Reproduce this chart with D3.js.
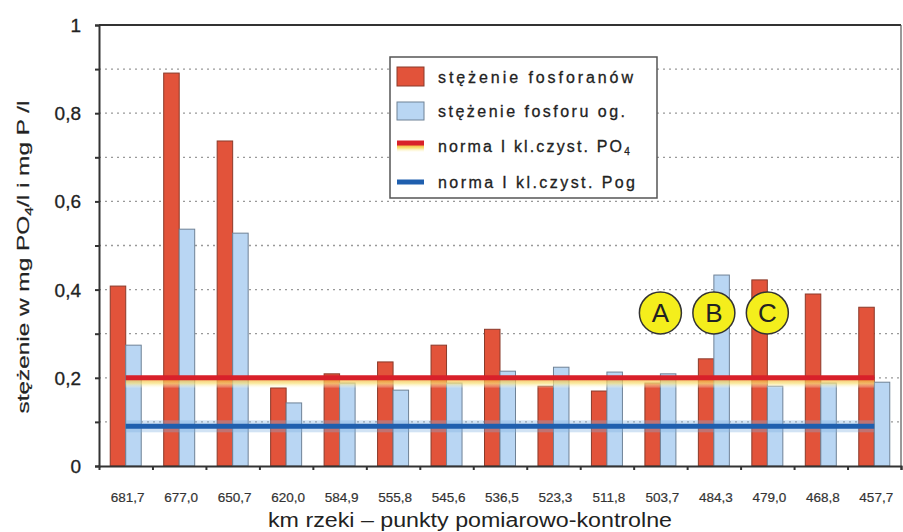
<!DOCTYPE html>
<html><head><meta charset="utf-8">
<script src="https://cdn.jsdelivr.net/npm/d3@7"></script>
<style>body{margin:0;background:#fff}svg{display:block}text{font-family:"Liberation Sans",Arial,sans-serif}</style>
</head><body>
<svg id="c" width="903" height="532"></svg>
<script>
const categories = ["681,7","677,0","650,7","620,0","584,9","555,8","545,6","536,5","523,3","511,8","503,7","484,3","479,0","468,8","457,7"];
const fosforany = [0.408,0.891,0.737,0.177,0.209,0.236,0.274,0.31,0.181,0.17,0.188,0.243,0.422,0.39,0.36];
const fosforOg = [0.274,0.537,0.528,0.143,0.188,0.172,0.188,0.215,0.224,0.213,0.209,0.433,0.181,0.188,0.19];
const normaPO4 = 0.2;
const normaPog = 0.09;
const yTicks = [0,0.2,0.4,0.6,0.8,1];
const markers = [{label:"A", cat:"503,7", v:0.347},{label:"B", cat:"484,3", v:0.347},{label:"C", cat:"479,0", v:0.347}];
const legendItems = ["stężenie fosforanów","stężenie fosforu og.","norma I kl.czyst. PO","norma I kl.czyst. Pog"];

const svg = d3.select("#c");
const L=99, R=901, T=25, B=466;
const x = d3.scaleBand().domain(categories).range([L,R]);
const y = d3.scaleLinear().domain([0,1]).range([B,T]);
const defs = svg.append("defs");
const gy = defs.append("linearGradient").attr("id","yel").attr("x1",0).attr("x2",0).attr("y1",0).attr("y2",1);
gy.append("stop").attr("offset","0%").attr("stop-color","#f3b23a");
gy.append("stop").attr("offset","45%").attr("stop-color","#f8e27a");
gy.append("stop").attr("offset","100%").attr("stop-color","#fffbe8").attr("stop-opacity",0.2);

// gridlines
const grid = d3.range(1,10).map(d=>d/10);
svg.append("g").selectAll("line").data(grid).join("line")
  .attr("x1",L).attr("x2",R).attr("y1",d=>y(d)).attr("y2",d=>y(d))
  .attr("stroke","#999").attr("stroke-width",1.3).attr("stroke-dasharray","2,4");

// frame top/right
svg.append("line").attr("x1",L).attr("x2",R).attr("y1",T).attr("y2",T).attr("stroke","#333").attr("stroke-width",2);
svg.append("line").attr("x1",R).attr("x2",R).attr("y1",T).attr("y2",B).attr("stroke","#555").attr("stroke-width",1.2);

// bars
const bw = 15.5;
svg.append("g").selectAll("rect").data(categories).join("rect")
  .attr("x",d=>x(d)+x.bandwidth()/2-bw).attr("width",bw)
  .attr("y",(d,i)=>y(fosforany[i])).attr("height",(d,i)=>B-y(fosforany[i]))
  .attr("fill","#e2533a").attr("stroke","#8a3a2a").attr("stroke-width",1);
svg.append("g").selectAll("rect").data(categories).join("rect")
  .attr("x",d=>x(d)+x.bandwidth()/2).attr("width",bw)
  .attr("y",(d,i)=>y(fosforOg[i])).attr("height",(d,i)=>B-y(fosforOg[i]))
  .attr("fill","#b9d6f3").attr("stroke","#6f8296").attr("stroke-width",1);

// norm lines
const x0 = x(categories[0])+x.bandwidth()/2, x1 = x(categories[categories.length-1])+x.bandwidth()/2;
svg.append("rect").attr("x",x0).attr("width",x1-x0).attr("y",y(normaPO4)+2).attr("height",8).attr("fill","url(#yel)").attr("opacity",0.7);
svg.append("line").attr("x1",x0).attr("x2",x1).attr("y1",y(normaPO4)).attr("y2",y(normaPO4)).attr("stroke","#d8202a").attr("stroke-width",5);
svg.append("rect").attr("x",x0).attr("width",x1-x0).attr("y",y(normaPog)-6).attr("height",12).attr("fill","#7fb0e0").attr("opacity",0.35);
svg.append("line").attr("x1",x0).attr("x2",x1).attr("y1",y(normaPog)).attr("y2",y(normaPog)).attr("stroke","#1f5fae").attr("stroke-width",5);

// axes
const ya = svg.append("g").attr("transform",`translate(${L},0)`)
  .call(d3.axisLeft(y).tickValues(d3.range(0,11).map(d=>d/10)).tickSize(4).tickFormat(""));
ya.select(".domain").attr("stroke","#333").attr("stroke-width",2);
ya.selectAll(".tick line").attr("stroke","#333").attr("stroke-width",2);
svg.append("g").selectAll("text").data(yTicks).join("text")
  .attr("x",81).attr("y",d=>y(d)+7).attr("text-anchor","end")
  .attr("font-size",19).attr("fill","#222").attr("stroke","#222").attr("stroke-width",0.3)
  .text(d=>d===0?"0":d===1?"1":String(d).replace(".",","));

const xa = svg.append("g").attr("transform",`translate(0,${B})`)
  .call(d3.axisBottom(d3.scaleLinear().domain([0,categories.length]).range([L,R])).tickValues(d3.range(1,16)).tickSize(4).tickFormat(""));
xa.select(".domain").attr("stroke","#333").attr("stroke-width",2);
xa.selectAll(".tick line").attr("stroke","#333").attr("stroke-width",2);
svg.append("g").selectAll("text").data(categories).join("text")
  .attr("x",d=>x(d)+x.bandwidth()/2+2).attr("y",502).attr("text-anchor","middle")
  .attr("font-size",13.5).attr("fill","#333").attr("stroke","#333").attr("stroke-width",0.2).text(d=>d);

svg.append("text").attr("x",470).attr("y",527).attr("text-anchor","middle").attr("font-size",20).attr("fill","#222")
  .attr("textLength",404).attr("lengthAdjust","spacingAndGlyphs")
  .text("km rzeki – punkty pomiarowo-kontrolne");
const yl = svg.append("text").attr("transform","translate(29,257) rotate(-90)").attr("text-anchor","middle").attr("font-size",17).attr("fill","#222")
  .attr("stroke","#222").attr("stroke-width",0.2).attr("textLength",313).attr("lengthAdjust","spacingAndGlyphs");
yl.append("tspan").text("stężenie w mg PO");
yl.append("tspan").attr("font-size",11).attr("dy",4).text("4");
yl.append("tspan").attr("dy",-4).text("/l i mg P /l");

// markers
const mg = svg.append("g").selectAll("g").data(markers).join("g")
  .attr("transform",d=>`translate(${x(d.cat)+x.bandwidth()/2},${y(d.v)})`);
mg.append("circle").attr("r",21).attr("fill","#f4ee1c").attr("stroke","#333").attr("stroke-width",1.5);
mg.append("text").attr("text-anchor","middle").attr("y",9).attr("font-size",26).attr("fill","#222").text(d=>d.label);

// legend
const lg = svg.append("g");
lg.append("rect").attr("x",390).attr("y",57).attr("width",267).attr("height",141).attr("fill","#fff").attr("stroke","#555").attr("stroke-width",1.5);
const rowsY = [77,111,146,182];
const lens = [195,187,184,197];
lg.append("rect").attr("x",397).attr("y",rowsY[0]-10).attr("width",27).attr("height",19).attr("fill","#e2533a").attr("stroke","#8a3a2a");
lg.append("rect").attr("x",397).attr("y",rowsY[1]-9).attr("width",27).attr("height",18).attr("fill","#b9d6f3").attr("stroke","#6f8296");
lg.append("rect").attr("x",397).attr("y",rowsY[2]-1).attr("width",27).attr("height",7).attr("fill","url(#yel)");
lg.append("line").attr("x1",397).attr("x2",424).attr("y1",rowsY[2]-3).attr("y2",rowsY[2]-3).attr("stroke","#d8202a").attr("stroke-width",5);
lg.append("line").attr("x1",397).attr("x2",424).attr("y1",rowsY[3]).attr("y2",rowsY[3]).attr("stroke","#1f5fae").attr("stroke-width",5);
lg.selectAll("text.l").data(legendItems).join("text").attr("class","l")
  .attr("x",438).attr("y",(d,i)=>rowsY[i]+6).attr("font-size",16).attr("fill","#222").attr("stroke","#222").attr("stroke-width",0.3)
  .each(function(d,i){
    const t=d3.select(this);
    t.append("tspan").attr("textLength",lens[i]).attr("lengthAdjust","spacing").text(d);
    if(i===2){ t.append("tspan").attr("font-size",10).attr("dy",3).text("4"); }
  });
</script>
</body></html>
